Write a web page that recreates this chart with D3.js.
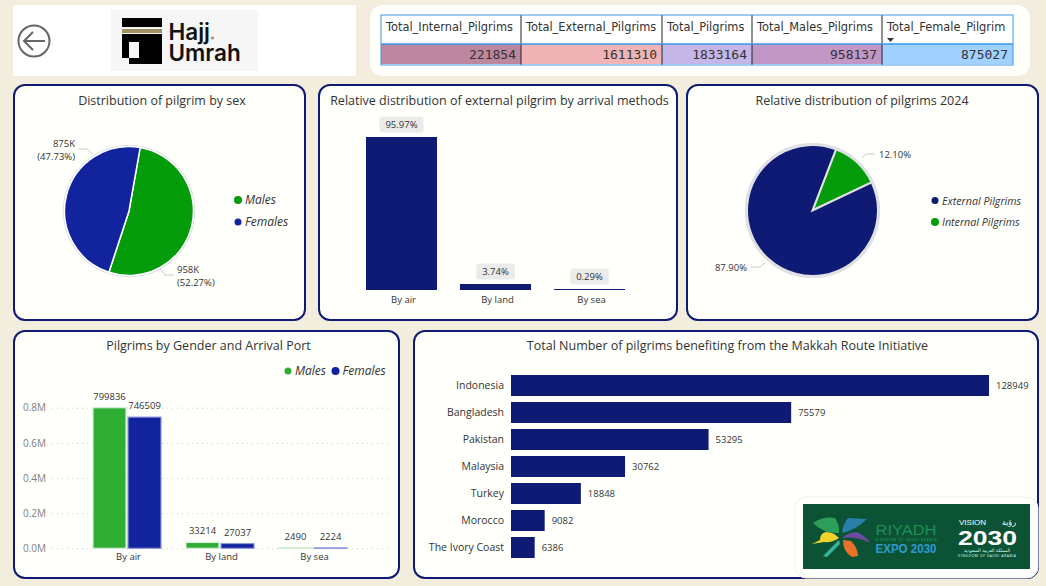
<html>
<head>
<meta charset="utf-8">
<style>
  html,body{margin:0;padding:0;background:#f3eddd;overflow:hidden;}
  text{font-family:"Open Sans",sans-serif;}
  .domain{display:none;}
</style>
</head>
<body>
<script src="https://d3js.org/d3.v7.min.js"></script>
<div id="chart"></div>
<script>
// table values
const tableHeaders = ["Total_Internal_Pilgrims","Total_External_Pilgrims","Total_Pilgrims","Total_Males_Pilgrims","Total_Female_Pilgrim"];
const tableValues = [221854,1611310,1833164,958137,875027];
const tableColors = ["#bd87a0","#f1b4b6","#c5b6e8","#c297c6","#a1d1ff"];

// pie 1
const sexLabels = ["Males","Females"];
const sexValues = [958137,875027];
const sexText = [["958K","(52.27%)"],["875K","(47.73%)"]];

// pie 2
const originLabels = ["Internal Pilgrims","External Pilgrims"];
const originValues = [12.10,87.90];
const originText = ["12.10%","87.90%"];

// arrival method bars
const arrivalMethods = ["By air","By land","By sea"];
const arrivalShare = [95.97,3.74,0.29];

// gender by port
const malesByPort = [799836,33214,2490];
const femalesByPort = [746509,27037,2224];
const portTicks = [0,200000,400000,600000,800000];

// makkah route
const routeCountries = ["Indonesia","Bangladesh","Pakistan","Malaysia","Turkey","Morocco","The Ivory Coast"];
const routeValues = [128949,75579,53295,30762,18848,9082,6386];

const navy = "#0e1a73", blue = "#12239e", green = "#059c0c", barGreen = "#2fae33";
const textDark = "#333", cardFill = "#fffffb";

var svg = d3.select("#chart").append("svg").attr("width",1046).attr("height",586).style("display","block");

svg.append("rect").attr("width",1046).attr("height",586).attr("fill","#f3eddd");

// ---------- cards
function card(x,y,w,h){
  svg.append("rect").attr("x",x).attr("y",y).attr("width",w).attr("height",h)
    .attr("rx",11).attr("fill",cardFill).attr("stroke",navy).attr("stroke-width",2);
}
function title(txt,cx,y){
  svg.append("text").attr("x",cx).attr("y",y).attr("text-anchor","middle")
    .attr("font-size",12.5).attr("fill",textDark).text(txt);
}
card(14,85,291,235);
card(319,85,358,235);
card(687,85,351,235);
card(14,331,385,247);
card(414,331,624,247);

// ---------- header left: back button and logo
svg.append("rect").attr("x",13).attr("y",5).attr("width",343).attr("height",71).attr("fill","#fff");
svg.append("circle").attr("cx",34).attr("cy",41).attr("r",15.5).attr("fill","none").attr("stroke","#666").attr("stroke-width",2);
svg.append("path").attr("d","M45 41H24M33 32L24 41L33 50").attr("fill","none").attr("stroke","#666").attr("stroke-width",2);

svg.append("rect").attr("x",111).attr("y",10).attr("width",147).attr("height",61).attr("fill","#f6f6f6");
svg.append("rect").attr("x",122).attr("y",18).attr("width",40).attr("height",9).attr("fill","#000");
svg.append("rect").attr("x",122).attr("y",29).attr("width",40).attr("height",4).attr("fill","#a08f63");
svg.append("path").attr("d","M122 34H162V64H129V58H122Z").attr("fill","#000");
svg.append("rect").attr("x",129).attr("y",42).attr("width",10).attr("height",16).attr("fill","#f6f6f6");
svg.append("text").attr("x",168.5).attr("y",40).attr("font-size",22.5).attr("font-weight",600).attr("fill","#111").style("font-family","Inter").text("Hajj");
svg.append("circle").attr("cx",212.5).attr("cy",38).attr("r",1.5).attr("fill","#a08f63");
svg.append("text").attr("x",168.5).attr("y",61).attr("font-size",22.5).attr("font-weight",600).attr("fill","#111").style("font-family","Inter").text("Umrah");

// ---------- header right: table
svg.append("rect").attr("x",370).attr("y",5).attr("width",660).attr("height",71).attr("rx",13).attr("fill",cardFill);
const colEdges = [381,521,662,752,882,1013];
tableHeaders.forEach((h,i) => {
  svg.append("rect").attr("x",colEdges[i]).attr("y",15).attr("width",colEdges[i+1]-colEdges[i]).attr("height",29).attr("fill","#fff");
  svg.append("rect").attr("x",colEdges[i]).attr("y",44).attr("width",colEdges[i+1]-colEdges[i]).attr("height",20).attr("fill",tableColors[i]);
  svg.append("text").attr("x",colEdges[i]+5).attr("y",31).attr("font-size",11.4).attr("fill",textDark)
    .style("font-family","DejaVu Sans").text(h);
  svg.append("text").attr("x",colEdges[i+1]-5).attr("y",59).attr("text-anchor","end").attr("font-size",13).attr("fill",textDark)
    .style("font-family","DejaVu Sans Mono").text(tableValues[i]);
});
colEdges.slice(1,-1).forEach(x => {
  svg.append("line").attr("x1",x).attr("x2",x).attr("y1",15).attr("y2",65).attr("stroke","#222").attr("stroke-width",1);
});
svg.append("rect").attr("x",381).attr("y",15).attr("width",632).attr("height",50).attr("fill","none").attr("stroke","#3a96e8");
svg.append("line").attr("x1",381).attr("x2",1013).attr("y1",44).attr("y2",44).attr("stroke","#3a96e8").attr("stroke-width",1.5);
svg.append("path").attr("d","M887 38H894L890.5 42Z").attr("fill","#333");

// ---------- pies
function drawPie(values,colors,cx,cy,r,startDeg,edge,edgeWidth,ringWidth){
  const start = startDeg*Math.PI/180;
  const pie = d3.pie().sort(null).startAngle(start).endAngle(start+2*Math.PI);
  const arc = d3.arc().innerRadius(0).outerRadius(r);
  const g = svg.append("g").attr("transform","translate("+cx+","+cy+")");
  g.append("circle").attr("r",r+1).attr("fill","none").attr("stroke","#dcdcea").attr("stroke-width",ringWidth);
  g.selectAll("path").data(pie(values)).join("path")
    .attr("d",arc).attr("fill",(d,i) => colors[i])
    .attr("stroke",edge).attr("stroke-width",edgeWidth);
}
function leader(points){
  svg.append("polyline").attr("points",points.join(" ")).attr("fill","none").attr("stroke","#ccc").attr("stroke-width",1);
}
function legendDot(x,y,r,color,txt,size){
  svg.append("circle").attr("cx",x).attr("cy",y).attr("r",r).attr("fill",color);
  svg.append("text").attr("x",x+7).attr("y",y+4).attr("font-size",size).attr("font-style","italic").attr("fill",textDark).text(txt);
}
function label(x,y,txt,anchor){
  svg.append("text").attr("x",x).attr("y",y).attr("text-anchor",anchor).attr("font-size",9.5).attr("fill",textDark).text(txt);
}

title("Distribution of pilgrim by sex",162,105);
drawPie(sexValues,[green,blue],129,211,64.5,10,"#fff",1.5,1.2);
leader(["160,269","165,275","174,275"]);
leader(["93,154","87,149","78,149"]);
label(177,273,sexText[0][0],"start");
label(177,286,sexText[0][1],"start");
label(75,147,sexText[1][0],"end");
label(75,160,sexText[1][1],"end");
legendDot(238,200,4,green,sexLabels[0],12);
legendDot(238,222,3.5,blue,sexLabels[1],12);

title("Relative distribution of pilgrims 2024",862,105);
drawPie(originValues,[green,navy],812.5,210.5,65.5,21,"#e2e2e2",2,2.2);
leader(["862,158","866,154","875,154"]);
leader(["765,263","760,267","751,267"]);
label(879,158,originText[0],"start");
label(747,271,originText[1],"end");
legendDot(935,200.5,3.5,navy,originLabels[1],10.7);
legendDot(935,222,4,green,originLabels[0],10.7);

// ---------- relative bars
title("Relative distribution of external pilgrim by arrival methods",499.5,105);
let methodX = d3.scaleBand().domain(arrivalMethods).range([366,625]).paddingInner(0.245);
let shareY = d3.scaleLinear().domain([0,95.97]).range([290,137]);
arrivalMethods.forEach((m,i) => {
  let top = Math.floor(shareY(arrivalShare[i]));
  svg.append("rect").attr("x",methodX(m)).attr("y",top)
    .attr("width",methodX.bandwidth()).attr("height",290-top)
    .attr("fill",navy);
  let cx = methodX(m)+methodX.bandwidth()/2;
  let txt = arrivalShare[i].toFixed(2)+"%";
  let pill = svg.append("rect").attr("y",top-20.5).attr("height",16).attr("rx",3).attr("fill","#ebebeb");
  let t = svg.append("text").attr("x",cx).attr("y",top-9).attr("text-anchor","middle")
    .attr("font-size",9.5).attr("fill",textDark).text(txt);
  let w = t.node().getComputedTextLength()+12;
  pill.attr("x",cx-w/2).attr("width",w);
});
svg.append("g").attr("transform","translate(2,290)")
  .call(d3.axisBottom(methodX).tickSize(0).tickPadding(6))
  .call(g => g.selectAll("text").attr("font-size",9.5).attr("fill",textDark).style("font-family","Open Sans"));

// ---------- gender by port
title("Pilgrims by Gender and Arrival Port",208.5,350);
legendDot(288,371,3.5,barGreen,"Males",12);
legendDot(335.5,371,4,blue,"Females",12);

let portX = d3.scaleBand().domain(arrivalMethods).range([92,348]).paddingInner(0.247);
let genderX = d3.scaleBand().domain(["m","f"]).range([0,portX.bandwidth()]);
let countY = d3.scaleLinear().domain([0,800000]).range([548.3,407.7]);

svg.append("g").attr("transform","translate(52,0)")
  .call(d3.axisLeft(countY).tickValues(portTicks).tickSize(-336).tickPadding(6).tickFormat(d => (d/1000000).toFixed(1)+"M"))
  .call(g => g.selectAll("line").attr("stroke","#ccc").attr("stroke-dasharray","1 4"))
  .call(g => g.selectAll("text").attr("font-size",10).attr("fill","#808080").style("font-family","Open Sans"));

arrivalMethods.forEach((m,i) => {
  [[malesByPort[i],"m",barGreen,"#d3efd4"],[femalesByPort[i],"f",blue,"#8f96d8"]].forEach(s => {
    let x = portX(m)+genderX(s[1]);
    svg.append("rect").attr("x",x+1).attr("y",countY(s[0]))
      .attr("width",genderX.bandwidth()-2).attr("height",countY(0)-countY(s[0]))
      .attr("fill",s[2]).attr("stroke",s[3]).attr("stroke-width",1.2);
    svg.append("text").attr("x",x+genderX.bandwidth()/2).attr("y",countY(s[0])-8).attr("text-anchor","middle")
      .attr("font-size",9.5).attr("fill",textDark).text(s[0]);
  });
});
svg.append("g").attr("transform","translate(1.5,548.3)")
  .call(d3.axisBottom(portX).tickSize(0).tickPadding(5))
  .call(g => g.selectAll("text").attr("font-size",9.5).attr("fill",textDark).style("font-family","Open Sans"));

// ---------- makkah route
title("Total Number of pilgrims benefiting from the Makkah Route Initiative",727.5,350);
let routeX = d3.scaleLinear().domain([0,128949]).range([511,989]);
let routeY = d3.scaleBand().domain(routeCountries).range([372,561]).paddingInner(0.222).paddingOuter(0.111);
svg.selectAll(".route").data(routeCountries).join("rect").attr("class","route")
  .attr("x",routeX(0)).attr("y",d => routeY(d))
  .attr("width",(d,i) => routeX(routeValues[i])-routeX(0)).attr("height",routeY.bandwidth()).attr("fill",navy);
svg.selectAll(".routeLabel").data(routeCountries).join("text").attr("class","routeLabel")
  .attr("x",(d,i) => routeX(routeValues[i])+7).attr("y",d => routeY(d)+routeY.bandwidth()/2+3.5)
  .attr("font-size",9.5).attr("fill",textDark).text((d,i) => routeValues[i]);
svg.append("g").attr("transform","translate(511,0)")
  .call(d3.axisLeft(routeY).tickSize(0).tickPadding(7))
  .call(g => g.selectAll("text").attr("font-size",10.5).attr("fill",textDark).style("font-family","Open Sans"));

// ---------- expo badge
svg.append("rect").attr("x",795).attr("y",497).attr("width",243).attr("height",81).attr("rx",11).attr("fill",cardFill).attr("stroke","#eeeeea");
svg.append("rect").attr("x",803).attr("y",504).attr("width",227).attr("height",65).attr("fill","#0c5235");
svg.append("path").attr("d","M813 523Q824 516 835 518Q840 526 839 533Q824 534 813 523Z").attr("fill","#2f9e5b");
svg.append("path").attr("d","M842 533Q843 524 848 518L867 519Q856 530 842 533Z").attr("fill","#2a7fa8");
svg.append("path").attr("d","M812 544L820 540Q820 533 826 532Q834 532 839 538Q832 543 824 542Z").attr("fill","#f0d22e");
svg.append("path").attr("d","M842 538Q848 532 857 532Q866 536 870 543Q856 536 842 538Z").attr("fill","#6c4aa0");
svg.append("path").attr("d","M843 540L851 541Q858 548 858 556L852 557Q843 552 843 540Z").attr("fill","#e8722a");
svg.append("path").attr("d","M839 540L823 556L827 557L840 544Z").attr("fill","#37b39a");
svg.append("text").attr("x",875.5).attr("y",534.5).attr("font-size",15.5).attr("fill","#1e8f55").style("font-family","Liberation Sans").attr("textLength",61).attr("lengthAdjust","spacingAndGlyphs").text("RIYADH");
svg.append("text").attr("x",875.5).attr("y",541).attr("font-size",3).attr("font-weight",700).attr("fill","#1e8f55").attr("textLength",61).text("KINGDOM OF SAUDI ARABIA");
svg.append("text").attr("x",875.5).attr("y",553).attr("font-size",12).attr("font-weight",700).attr("fill","#2d9bd0").style("font-family","Liberation Sans").attr("textLength",61).attr("lengthAdjust","spacingAndGlyphs").text("EXPO 2030");
svg.append("text").attr("x",959).attr("y",525).attr("font-size",8).attr("fill","#fff").style("font-family","Liberation Sans").text("VISION");
svg.append("text").attr("x",1016).attr("y",525).attr("text-anchor","end").attr("font-size",8).attr("fill","#fff").style("font-family","DejaVu Sans").text("رؤية");
svg.append("text").attr("x",958).attr("y",545).attr("font-size",20).attr("font-weight",700).attr("fill","#fff").attr("textLength",59).attr("lengthAdjust","spacingAndGlyphs").style("font-family","Liberation Sans").text("2030");
svg.append("text").attr("x",987).attr("y",552).attr("text-anchor","middle").attr("font-size",4.5).attr("fill","#dfe").style("font-family","DejaVu Sans").text("المملكة العربية السعودية");
svg.append("text").attr("x",987).attr("y",557).attr("text-anchor","middle").attr("font-size",3.5).attr("fill","#dfe").attr("textLength",58).text("KINGDOM OF SAUDI ARABIA");
</script>
</body>
</html>
